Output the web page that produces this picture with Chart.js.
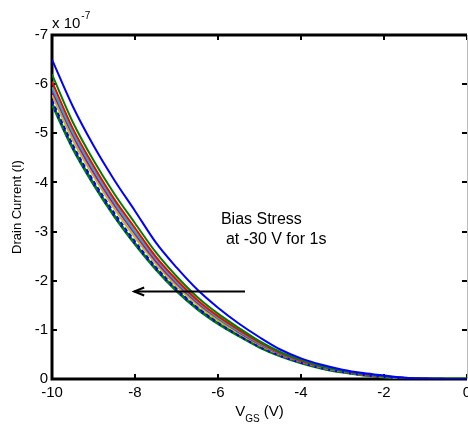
<!DOCTYPE html>
<html>
<head>
<meta charset="utf-8">
<script src="https://cdn.jsdelivr.net/npm/chart.js@4.4.1/dist/chart.umd.min.js"></script>
<style>
  html, body { margin: 0; padding: 0; background: #fff; }
  #c { display: block; }
</style>
</head>
<body>
<canvas id="c" width="468" height="425"></canvas>
<script>
// Gate voltage (V)
const VGS = [-10, -9.5, -9, -8.5, -8, -7.5, -7, -6.5, -6, -5.5, -5, -4.5, -4, -3.5, -3, -2.5, -2, -1.5, -1, -0.5, 0];
// Drain current magnitudes, in units of 1e-7 A (plotted as negative currents)
const I_BLUE    = [6.5, 5.55, 4.75, 4.05, 3.42, 2.78, 2.27, 1.82, 1.45, 1.13, 0.85, 0.6, 0.42, 0.29, 0.19, 0.12, 0.07, 0.025, 0.008, 0.002, 0];
const I_GREEN   = [6.2, 5.23, 4.45, 3.77, 3.17, 2.58, 2.09, 1.67, 1.33, 1.04, 0.77, 0.55, 0.39, 0.26, 0.17, 0.105, 0.059, 0.021, 0.006, 0.001, 0];
const I_RED     = [6.05, 5.1, 4.34, 3.66, 3.07, 2.49, 2.02, 1.61, 1.28, 1.0, 0.744, 0.53, 0.372, 0.253, 0.164, 0.099, 0.054, 0.02, 0.006, 0.001, 0];
const I_CYAN    = [5.94, 5.02, 4.27, 3.6, 3.0, 2.45, 1.98, 1.58, 1.25, 0.975, 0.726, 0.52, 0.364, 0.247, 0.159, 0.095, 0.051, 0.019, 0.005, 0.001, 0];
const I_MAGENTA = [5.87, 4.96, 4.2, 3.54, 2.95, 2.4, 1.94, 1.55, 1.23, 0.955, 0.71, 0.509, 0.357, 0.241, 0.155, 0.092, 0.049, 0.018, 0.005, 0.001, 0];
const I_YELLOW  = [5.78, 4.87, 4.13, 3.47, 2.88, 2.35, 1.89, 1.51, 1.19, 0.93, 0.69, 0.496, 0.348, 0.234, 0.15, 0.088, 0.046, 0.017, 0.005, 0.001, 0];
const I_BLUE2   = [5.67, 4.77, 4.03, 3.38, 2.8, 2.28, 1.84, 1.46, 1.16, 0.9, 0.666, 0.48, 0.337, 0.226, 0.144, 0.083, 0.042, 0.016, 0.004, 0.001, 0];
const I_GREEN2  = [5.6, 4.7, 3.97, 3.32, 2.75, 2.24, 1.8, 1.43, 1.13, 0.88, 0.65, 0.47, 0.33, 0.22, 0.14, 0.08, 0.04, 0.015, 0.004, 0.001, 0];
// Tick labels
const X_TICKS = [-10, -8, -6, -4, -2, 0];
const Y_TICKS = [-7, -6, -5, -4, -3, -2, -1, 0];

const FONT = "'Liberation Sans', Arial, Helvetica, sans-serif";

function pts(arr) { return VGS.map((v, i) => ({ x: v, y: -arr[i] })); }
function ds(arr, color, width, dash, order) {
  return {
    data: pts(arr), borderColor: color, borderWidth: width, borderDash: dash || [],
    pointRadius: 0, fill: false, cubicInterpolationMode: 'monotone', order: order
  };
}

const decor = {
  id: 'decor',
  beforeDatasetsDraw(chart) {
    const { ctx, chartArea: a, scales: { x, y } } = chart;
    ctx.save();
    ctx.strokeStyle = '#000';
    ctx.lineWidth = 2;
    const tl = 5;
    X_TICKS.forEach(v => {
      const px = Math.round(x.getPixelForValue(v));
      ctx.beginPath(); ctx.moveTo(px, a.bottom); ctx.lineTo(px, a.bottom - tl); ctx.stroke();
      ctx.beginPath(); ctx.moveTo(px, a.top); ctx.lineTo(px, a.top + tl); ctx.stroke();
    });
    Y_TICKS.forEach(v => {
      const py = Math.round(y.getPixelForValue(v));
      ctx.beginPath(); ctx.moveTo(a.left, py); ctx.lineTo(a.left + tl, py); ctx.stroke();
      ctx.beginPath(); ctx.moveTo(a.right, py); ctx.lineTo(a.right - tl, py); ctx.stroke();
    });
    ctx.lineWidth = 3;
    ctx.beginPath();
    ctx.moveTo(a.right, a.top); ctx.lineTo(a.left, a.top); ctx.lineTo(a.left, a.bottom); ctx.lineTo(a.right, a.bottom);
    ctx.stroke();
    ctx.strokeStyle = '#bbb';
    ctx.lineWidth = 1;
    ctx.beginPath(); ctx.moveTo(a.right + 0.5, a.top); ctx.lineTo(a.right + 0.5, a.bottom); ctx.stroke();
    ctx.restore();
  },
  afterDraw(chart) {
    const { ctx, chartArea: a, scales: { x, y } } = chart;
    ctx.save();
    ctx.fillStyle = '#000';
    ctx.textBaseline = 'alphabetic';
    // multiplier
    ctx.font = '15px ' + FONT;
    ctx.textAlign = 'left';
    ctx.fillText('x 10', a.left, 28);
    const wx = ctx.measureText('x 10').width;
    ctx.font = '10px ' + FONT;
    ctx.fillText('-7', a.left + wx + 1, 19);
    // x title
    ctx.font = '15px ' + FONT;
    const w1 = ctx.measureText('V').width;
    const w3 = ctx.measureText(' (V)').width;
    ctx.font = '10px ' + FONT;
    const w2 = ctx.measureText('GS').width;
    let sx = (a.left + a.right) / 2 - (w1 + w2 + w3) / 2;
    ctx.font = '15px ' + FONT;
    ctx.fillText('V', sx, 416);
    ctx.font = '10px ' + FONT;
    ctx.fillText('GS', sx + w1, 422);
    ctx.font = '15px ' + FONT;
    ctx.fillText(' (V)', sx + w1 + w2, 416);
    // y title
    ctx.save();
    ctx.translate(17, (a.top + a.bottom) / 2);
    ctx.rotate(-Math.PI / 2);
    ctx.textAlign = 'center';
    ctx.textBaseline = 'middle';
    ctx.font = '13px ' + FONT;
    ctx.fillText('Drain Current (I)', 0, 0);
    ctx.restore();
    // annotation
    ctx.font = '16px ' + FONT;
    ctx.textAlign = 'left';
    ctx.textBaseline = 'middle';
    ctx.fillText('Bias Stress', x.getPixelForValue(-5.93), y.getPixelForValue(-3.24));
    ctx.fillText('at -30 V for 1s', x.getPixelForValue(-5.81), y.getPixelForValue(-2.83));
    // arrow
    const ax0 = x.getPixelForValue(-5.35), ax1 = x.getPixelForValue(-8.02);
    const ay = Math.round(y.getPixelForValue(-1.79)) + 0.5;
    ctx.strokeStyle = '#000';
    ctx.lineWidth = 2;
    ctx.beginPath(); ctx.moveTo(ax0, ay); ctx.lineTo(ax1, ay); ctx.stroke();
    ctx.beginPath();
    ctx.moveTo(ax1 + 10, ay - 4); ctx.lineTo(ax1, ay); ctx.lineTo(ax1 + 10, ay + 4);
    ctx.stroke();
    ctx.restore();
  }
};

new Chart(document.getElementById('c'), {
  type: 'line',
  data: {
    datasets: [
      ds(I_BLUE, '#0000ff', 2, [], 1),
      ds(I_GREEN, '#008000', 2, [], 1),
      ds(I_RED, '#ff0000', 2, [], 1),
      ds(I_CYAN, '#00bfbf', 2, [], 1),
      ds(I_MAGENTA, '#bf00bf', 2, [], 1),
      ds(I_YELLOW, '#bfbf00', 2, [], 1),
      ds(I_BLUE2, '#0000ff', 2, [4, 3], 1),
      ds(I_GREEN2, '#008000', 3, [], 2),
      ds(I_GREEN2, '#0000ff', 2, [2, 5], 0)
    ]
  },
  options: {
    responsive: false,
    animation: false,
    events: [],
    layout: { padding: { top: 35, right: 1, left: 0, bottom: 0 } },
    plugins: { legend: { display: false }, tooltip: { enabled: false } },
    scales: {
      x: {
        type: 'linear', min: -10, max: 0,
        afterBuildTicks: s => { s.ticks = X_TICKS.map(v => ({ value: v })); },
        afterFit: s => { s.height = 46; s.paddingLeft = 0; s.paddingRight = 0; },
        ticks: { color: '#000', font: { family: FONT, size: 15 }, padding: 5, maxRotation: 0, autoSkip: false,
                 callback: v => String(v) },
        grid: { display: false, drawTicks: false },
        border: { display: false }
      },
      y: {
        type: 'linear', min: -7, max: 0, reverse: true,
        afterBuildTicks: s => { s.ticks = Y_TICKS.map(v => ({ value: v })); },
        afterFit: s => { s.width = 52; s.paddingTop = 0; s.paddingBottom = 0; },
        ticks: { color: '#000', font: { family: FONT, size: 15 }, padding: 4, autoSkip: false,
                 callback: v => String(v) },
        grid: { display: false, drawTicks: false },
        border: { display: false }
      }
    }
  },
  plugins: [decor]
});
</script>
</body>
</html>
